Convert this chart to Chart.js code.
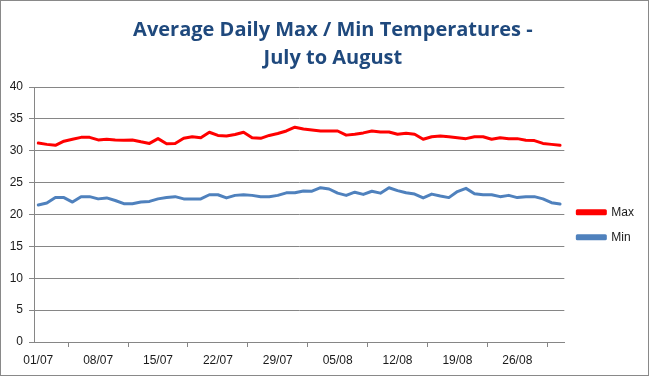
<!DOCTYPE html>
<html>
<head>
<meta charset="utf-8">
<script src="https://cdn.jsdelivr.net/npm/chart.js@4/dist/chart.umd.min.js"></script>
<style>
  html, body { margin: 0; padding: 0; background: #fff; }
  #box { width: 647px; height: 374px; border: 1px solid #898989; }
</style>
</head>
<body>
<div id="box"><canvas id="tempChart" width="647" height="374"></canvas></div>
<script>
// days 01/07 .. 31/08
const days = [
  "01/07","02/07","03/07","04/07","05/07","06/07","07/07","08/07","09/07","10/07",
  "11/07","12/07","13/07","14/07","15/07","16/07","17/07","18/07","19/07","20/07",
  "21/07","22/07","23/07","24/07","25/07","26/07","27/07","28/07","29/07","30/07","31/07",
  "01/08","02/08","03/08","04/08","05/08","06/08","07/08","08/08","09/08","10/08",
  "11/08","12/08","13/08","14/08","15/08","16/08","17/08","18/08","19/08","20/08",
  "21/08","22/08","23/08","24/08","25/08","26/08","27/08","28/08","29/08","30/08","31/08"
];

const maxTemps = [
  31.2, 31.0, 30.85, 31.5, 31.8, 32.1, 32.1, 31.7, 31.8, 31.7,
  31.65, 31.7, 31.4, 31.15, 31.9, 31.1, 31.15, 31.95, 32.2, 32.05,
  32.9, 32.4, 32.3, 32.55, 32.9, 32.05, 31.95, 32.4, 32.7, 33.1,
  33.7, 33.4, 33.25, 33.1, 33.1, 33.1, 32.45, 32.6, 32.8, 33.1,
  32.95, 32.95, 32.6, 32.75, 32.6, 31.8, 32.2, 32.3, 32.2, 32.05,
  31.9, 32.2, 32.2, 31.8, 32.05, 31.9, 31.9, 31.65, 31.6, 31.15,
  31.0, 30.85
];

const minTemps = [
  21.5, 21.8, 22.65, 22.65, 21.95, 22.8, 22.8, 22.45, 22.6, 22.2,
  21.7, 21.7, 21.95, 22.05, 22.45, 22.65, 22.8, 22.45, 22.45, 22.45,
  23.1, 23.1, 22.6, 23.0, 23.1, 23.0, 22.8, 22.8, 23.0, 23.4,
  23.4, 23.7, 23.65, 24.2, 24.0, 23.35, 23.0, 23.5, 23.15, 23.65,
  23.35, 24.2, 23.75, 23.4, 23.2, 22.6, 23.2, 22.9, 22.65, 23.6,
  24.1, 23.25, 23.1, 23.1, 22.8, 23.0, 22.65, 22.8, 22.8, 22.45,
  21.85, 21.65
];

const yTicks = { min: 0, max: 40, step: 5 };
const labelEvery = 7;

const gridGrey = '#868686';
const txt = '#1a1a1a';
const axisFont = { family: 'Liberation Sans', size: 12 };

new Chart(document.getElementById('tempChart'), {
  type: 'line',
  data: {
    labels: days,
    datasets: [
      { label: 'Max', data: maxTemps, borderColor: '#FF0000', backgroundColor: '#FF0000' },
      { label: 'Min', data: minTemps, borderColor: '#4F81BD', backgroundColor: '#4F81BD' }
    ]
  },
  options: {
    responsive: false,
    devicePixelRatio: 1,
    animation: false,
    layout: { padding: { left: 0, right: 4, top: 0, bottom: 1 } },
    elements: {
      point: { radius: 0 },
      line: { borderWidth: 3, tension: 0, borderJoinStyle: 'round', borderCapStyle: 'round' }
    },
    plugins: {
      title: {
        display: true,
        // leading spaces push the centred title a little right, as in the original
        text: ['    Average Daily Max / Min Temperatures -', '    July to August'],
        color: '#1F497D',
        font: { family: 'Open Sans', size: 20, weight: 'bold', lineHeight: 1.4 },
        padding: { top: 15, bottom: 15 }
      },
      legend: {
        position: 'right',
        // empty legend title only used to push the entries down
        title: { display: true, text: ' ', font: { size: 12 }, padding: { top: 0, bottom: 60 } },
        labels: {
          boxWidth: 28,
          boxHeight: 3,
          padding: 13,
          color: txt,
          font: axisFont
        }
      },
      tooltip: { enabled: false }
    },
    scales: {
      x: {
        offset: true,
        grid: { offset: true, drawOnChartArea: false, drawTicks: true, tickLength: 5, color: gridGrey },
        border: { color: gridGrey },
        ticks: {
          autoSkip: false,
          maxRotation: 0,
          padding: 6,
          color: txt,
          font: axisFont,
          callback: (v, i) => (i % labelEvery === 0 ? days[i] : null)
        },
        afterFit: s => { s.height = 32; }
      },
      y: {
        min: yTicks.min,
        max: yTicks.max,
        grid: { color: gridGrey, tickLength: 5 },
        border: { color: gridGrey },
        ticks: { stepSize: yTicks.step, padding: 6, color: txt, font: axisFont },
        afterFit: s => { s.width = 33; }
      }
    }
  }
});
</script>
</body>
</html>
